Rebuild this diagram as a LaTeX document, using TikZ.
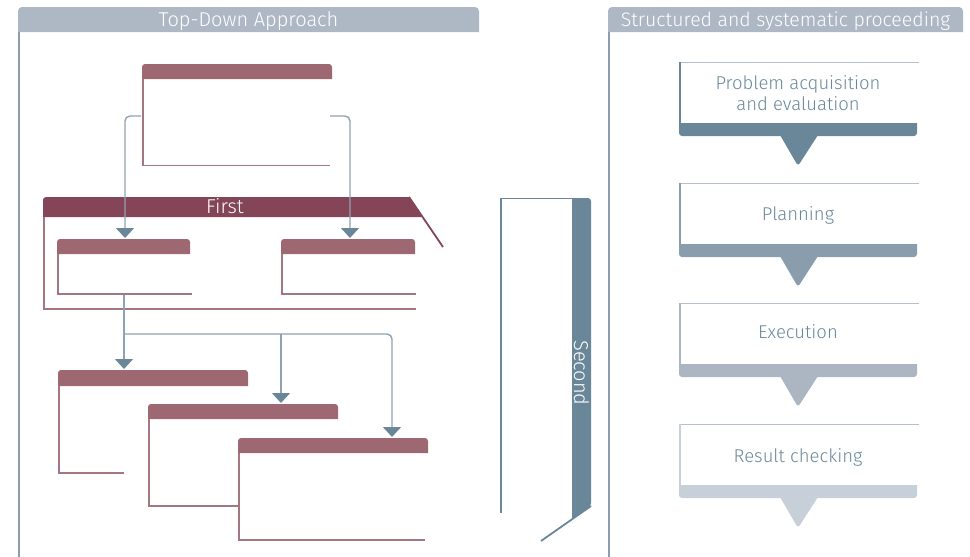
\documentclass[tikz,border=0pt]{standalone}
\usepackage{fontspec}
\setmainfont{Fira Sans}[UprightFont={* Light}]
\usetikzlibrary{arrows.meta}

\definecolor{hdrgrey}{HTML}{AEB8C4}
\definecolor{panelline}{HTML}{8C9DAE}
\definecolor{mauve}{HTML}{9E6873}
\definecolor{mauveline}{HTML}{A47680}
\definecolor{darkmauve}{HTML}{834557}
\definecolor{connline}{HTML}{8FA2B2}
\definecolor{tipcol}{HTML}{6A8799}
\definecolor{steel}{HTML}{6A8799}
\definecolor{stepA}{HTML}{6A8799}
\definecolor{stepB}{HTML}{8A9DAC}
\definecolor{stepC}{HTML}{ABB6C2}
\definecolor{stepD}{HTML}{C7D0D9}
\definecolor{steptext}{HTML}{6A8799}
\definecolor{steptop}{HTML}{B5C0CA}

\tikzset{
  panelhead/.style={fill=hdrgrey},
  headtext/.style={text=white, font=\fontsize{20}{20}\selectfont, inner sep=0pt},
  panelrule/.style={draw=panelline, line width=2pt},
  cardline/.style={draw=mauveline, line width=1.6pt},
  conn/.style={draw=connline, line width=1.4pt, rounded corners=5pt,
    -{Triangle[width=18pt,length=10pt,color=tipcol]}},
  steplabel/.style={text=steptext, font=\fontsize{18.5}{21}\selectfont, align=center, inner sep=0pt},
}

% card: left, top, right, header bottom, bottom, end of bottom rule
\newcommand\drawcard[6]{%
  \fill[white] (#1,#4) rectangle (#3,#5);
  \fill[mauve] (#1,#4) [rounded corners=3pt] -- (#1,#2) -- (#3,#2) [sharp corners] -- (#3,#4) -- cycle;
  \draw[cardline] (#1+0.8,#4) -- (#1+0.8,#5) -- (#6,#5);
}

% process step shape: top edge, band colour
\newcommand\procstep[2]{%
  \draw[steptop, line width=1pt] (679,#1) -- (919,#1);
  \draw[#2, line width=1.5pt] (679.75,#1) -- (679.75,#1+61);
  \fill[#2] (679,#1+61) [rounded corners=3pt] -- (679,#1+74) -- (917,#1+74) [sharp corners] -- (917,#1+61) -- cycle;
  \fill[#2] (780,#1+73) [rounded corners=3pt] -- (798,#1+104) [sharp corners] -- (818,#1+73) -- cycle;
}

\begin{document}
\begin{tikzpicture}[x=1pt,y=-1pt]
\useasboundingbox (0,0) rectangle (970,557);

% ---- left panel: Top-Down Approach
\fill[panelhead] (18,32) [rounded corners=4pt] -- (18,7) -- (479,7) [sharp corners] -- (479,32) -- cycle;
\node[headtext, anchor=base] (tdtitle) at (248.5,26) {Top-Down Approach};
\draw[panelrule] (19,32) -- (19,557);

% ---- right panel: Structured and systematic proceeding
\fill[panelhead] (608,32) [rounded corners=4pt] -- (608,7) -- (963,7) [sharp corners] -- (963,32) -- cycle;
\node[headtext, anchor=base, font=\fontsize{19.5}{19.5}\selectfont] (sptitle) at (785.5,26) {Structured and systematic proceeding};
\draw[panelrule] (609,32) -- (609,557);

% ---- top card
\drawcard{142}{64}{332}{79}{165.5}{330}
\coordinate (topL) at (141,116);
\coordinate (topR) at (330,116);

% ---- "First" band and frame
\fill[darkmauve] (43,217) [rounded corners=3pt] -- (43,197) [sharp corners] -- (409,197) -- (422,217) -- cycle;
\node[headtext, anchor=base] (first) at (225,213.5) {First};
\draw[darkmauve, line width=1.8pt] (409,197) -- (443,247);
\draw[cardline] (44.2,217) -- (44.2,309) -- (416,309);

% ---- cards inside "First"
\drawcard{57}{239}{190}{254}{294}{192}
\drawcard{281}{239}{415}{254}{294}{416}
\coordinate (aTip) at (125,238);
\coordinate (bTip) at (350,238);
\coordinate (aBot) at (124,295);

% ---- lower cards
\drawcard{58}{370}{248}{386}{473}{124}
\drawcard{148}{404}{338}{419}{506}{238}
\drawcard{238}{438}{428}{453}{540}{425}
\coordinate (cTip) at (124,369);
\coordinate (dTip) at (281,403);
\coordinate (eTip) at (392,437);
\coordinate (split) at (124,334);
\coordinate (split2) at (281,334);

% ---- connectors
\draw[conn] (topL) -| (aTip);
\draw[conn] (topR) -| (bTip);
\draw[conn] (aBot) -- (cTip);
\draw[conn] (split2) -- (dTip);
\draw[conn] (split) -| (eTip);

% ---- "Second" bracket
\draw[steel, line width=1.3pt] (501,513) -- (501,198.6) -- (573,198.6);
\fill[steel] (572,198) [rounded corners=3pt] -- (591,198) -- (591,506) [sharp corners] -- (572,519) -- cycle;
\draw[steel, line width=1.8pt] (591,506) -- (541,541);
\node[headtext, rotate=-90] (second) at (581.5,373) {Second};

% ---- process steps
\procstep{62}{stepA}
\procstep{183}{stepB}
\procstep{303}{stepC}
\procstep{424}{stepD}
\node[steplabel] (s1) at (798,93) {Problem acquisition\\and evaluation};
\node[steplabel, anchor=base] (s2) at (798,220) {Planning};
\node[steplabel, anchor=base] (s3) at (798,338) {Execution};
\node[steplabel, anchor=base] (s4) at (798,462) {Result checking};

\end{tikzpicture}
\end{document}
